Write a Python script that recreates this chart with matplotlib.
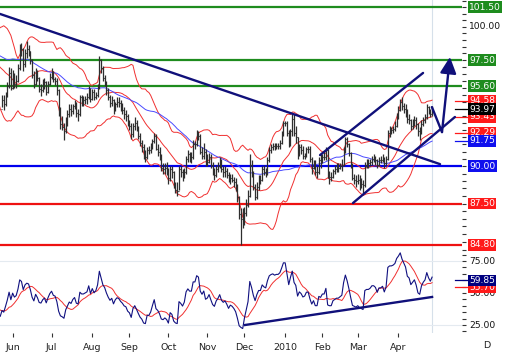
import numpy as np
import pandas as pd
import matplotlib
matplotlib.use('Agg')
import matplotlib.pyplot as plt
from matplotlib.ticker import FixedLocator, NullFormatter, NullLocator
from matplotlib.transforms import blended_transform_factory

# closes before the first visible bar, only used to warm up the indicators
hist_close = [98.2, 98.0, 98.4, 98.5, 96.3, 94.5, 94.9, 96.4, 97.1, 97.3,
              98.0, 97.7, 97.1, 98.9, 98.6, 99.3, 100.2, 100.8, 101.2, 100.6,
              100.0, 99.9, 99.2, 99.6, 99.4, 98.6, 99.1, 98.6, 97.4, 97.5,
              97.0, 96.6, 97.9, 97.7, 98.6, 98.4, 99.2, 98.9, 98.8, 98.2,
              97.5, 97.1, 95.9, 96.6, 95.3, 95.6, 96.2, 95.5, 94.4, 94.0]

# daily bars, 22 May 2009 -> 28 Apr 2010
close = [94.6, 94.3, 94.9, 95.6, 96.6, 95.5,
         96.4, 95.8, 96.0, 96.9, 98.5, 98.3, 97.2, 98.0, 98.3, 98.2, 97.5, 96.4, 95.8, 96.7, 96.2, 95.4, 95.3, 95.7, 95.9, 95.2, 95.8, 96.3,
         96.6, 96.1, 96.0, 95.3, 93.8, 92.9, 92.7, 92.4, 93.2, 93.6, 94.0, 93.8, 94.2, 94.4, 93.7, 93.6, 94.8, 94.6, 94.6, 94.7, 94.8, 95.4, 94.7,
         95.2, 94.8, 95.0, 95.6, 97.5, 96.9, 96.2, 95.9, 95.3, 94.8, 94.4, 94.6, 93.9, 94.3, 94.5, 94.4, 94.1, 93.9, 93.6, 93.5, 93.0,
         92.8, 92.2, 92.8, 93.0, 92.6, 92.1, 91.6, 91.3, 90.7, 90.6, 91.1, 91.1, 91.3, 91.7, 92.1, 91.2, 91.0, 90.6, 89.9, 89.8, 89.9, 89.7,
         89.2, 89.8, 89.6, 88.7, 88.4, 88.3, 89.8, 89.6, 89.3, 89.6, 90.5, 90.8, 90.6, 90.6, 91.5, 91.5, 92.2, 92.1, 91.0, 90.7, 91.0, 90.2,
         90.3, 90.6, 90.1, 89.6, 89.4, 89.8, 90.0, 90.3, 89.8, 89.6, 89.7, 89.4, 89.0, 89.2, 89.1, 88.9, 88.6, 87.9, 86.8, 86.5, 86.3,
         86.9, 87.4, 88.0, 90.1, 89.5, 88.6, 87.9, 88.6, 89.1, 89.1, 89.8, 89.6, 89.5, 90.4, 91.1, 91.3, 91.4, 91.3, 91.4, 91.4, 91.6, 92.2, 93.0,
         93.0, 92.3, 91.5, 92.4, 93.3, 92.3, 92.0, 90.8, 91.3, 91.1, 90.7, 90.8, 91.2, 91.2, 90.5, 89.9, 90.2, 89.6, 89.6, 90.4, 90.3,
         90.6, 90.6, 91.1, 89.4, 89.3, 89.3, 89.7, 89.8, 89.9, 89.9, 90.0, 90.1, 91.1, 91.9, 91.5, 90.9, 90.1, 89.2, 89.1, 89.0,
         89.1, 88.9, 88.8, 88.7, 90.1, 90.2, 90.2, 90.3, 90.5, 90.5, 90.4, 90.1, 90.4, 90.4, 90.5, 90.2, 90.5, 92.3, 92.5, 92.5, 92.6, 92.8, 93.5,
         93.9, 94.5, 94.2, 94.0, 93.8, 93.3, 93.2, 92.8, 93.0, 93.2, 92.9, 92.4, 92.3, 92.9, 93.2, 93.4, 94.1, 93.8, 93.6, 93.97]

high = [95.0, 95.0, 95.2, 95.9, 97.0, 96.9,
        96.8, 96.6, 96.4, 97.2, 98.7, 98.8, 98.4, 98.3, 98.9, 98.6, 98.2, 97.6, 96.7, 96.9, 96.8, 96.3, 95.8, 96.1, 96.2, 96.0, 96.0, 96.6,
        96.9, 96.7, 96.3, 96.2, 95.4, 94.1, 93.5, 93.0, 93.4, 93.9, 94.3, 94.3, 94.3, 94.6, 94.5, 94.0, 95.0, 95.0, 94.9, 94.9, 95.1, 95.6, 95.5,
        95.4, 95.4, 95.2, 95.8, 97.8, 97.6, 97.1, 96.4, 96.0, 95.5, 95.0, 94.9, 94.7, 94.5, 94.8, 94.8, 94.6, 94.4, 94.1, 93.9, 93.6,
        93.2, 93.0, 93.0, 93.4, 93.2, 92.8, 92.3, 91.8, 91.5, 91.1, 91.3, 91.4, 91.6, 91.9, 92.3, 92.2, 91.5, 91.3, 90.8, 90.2, 90.2, 90.3,
        89.9, 90.0, 90.0, 89.7, 88.9, 88.9, 90.0, 90.0, 89.8, 89.9, 90.7, 91.1, 91.0, 91.0, 91.8, 91.7, 92.5, 92.4, 92.2, 91.3, 91.6, 91.2,
        90.8, 90.9, 90.8, 90.3, 89.9, 90.1, 90.3, 90.6, 90.5, 90.0, 90.0, 89.9, 89.6, 89.5, 89.5, 89.3, 89.2, 88.8, 88.0, 87.2, 87.2,
        87.3, 87.8, 88.4, 90.8, 90.4, 89.7, 88.8, 88.9, 89.4, 89.4, 90.0, 90.1, 89.9, 90.6, 91.3, 91.5, 91.6, 91.6, 91.6, 91.6, 91.8, 92.4, 93.1,
        93.1, 93.1, 92.5, 92.6, 93.7, 93.6, 92.8, 92.0, 91.5, 91.5, 91.4, 90.9, 91.3, 91.4, 91.4, 90.6, 90.4, 90.4, 90.0, 90.6, 90.8,
        90.8, 91.0, 91.3, 91.2, 89.7, 89.6, 89.8, 90.1, 90.2, 90.2, 90.2, 90.5, 91.3, 92.0, 92.0, 91.6, 91.0, 90.2, 89.5, 89.4,
        89.5, 89.4, 89.2, 89.1, 90.3, 90.5, 90.5, 90.5, 90.7, 90.8, 90.7, 90.5, 90.6, 90.7, 90.8, 90.6, 90.7, 92.5, 92.8, 92.7, 92.8, 93.1, 93.7,
        94.2, 94.7, 94.8, 94.4, 94.3, 94.0, 93.6, 93.3, 93.3, 93.5, 93.4, 93.0, 92.7, 93.2, 93.4, 93.6, 94.3, 94.2, 94.0, 94.2]

low = [94.1, 93.9, 94.2, 94.8, 95.5, 95.3,
       95.4, 95.5, 95.5, 95.9, 96.8, 97.8, 96.7, 97.0, 97.7, 97.8, 97.2, 96.2, 95.5, 95.7, 96.0, 95.2, 94.9, 95.2, 95.4, 95.0, 95.1, 95.7,
       96.1, 95.9, 95.7, 95.0, 93.5, 92.6, 92.5, 91.8, 92.3, 92.8, 93.4, 93.5, 93.6, 94.0, 93.4, 93.1, 93.5, 94.2, 94.2, 94.3, 94.3, 94.7, 94.5,
       94.6, 94.6, 94.7, 94.8, 95.4, 96.6, 96.0, 95.6, 95.0, 94.6, 94.1, 94.2, 93.6, 93.8, 94.1, 94.1, 93.8, 93.6, 93.3, 93.1, 92.8,
       92.5, 91.9, 92.0, 92.5, 92.4, 91.9, 91.4, 91.0, 90.5, 90.3, 90.5, 90.8, 90.9, 91.2, 91.6, 91.1, 90.7, 90.4, 89.7, 89.5, 89.5, 89.4,
       88.8, 89.0, 89.2, 88.5, 88.2, 88.0, 88.4, 89.3, 89.0, 89.2, 89.5, 90.3, 90.3, 90.2, 90.5, 91.2, 91.4, 91.8, 90.8, 90.5, 90.5, 90.0,
       90.0, 90.2, 89.9, 89.4, 89.1, 89.3, 89.6, 89.9, 89.6, 89.3, 89.3, 89.2, 88.9, 88.8, 88.9, 88.6, 88.3, 87.6, 86.5, 84.8, 85.9,
       86.1, 86.7, 87.3, 87.9, 89.3, 88.4, 87.7, 87.8, 88.4, 88.8, 89.0, 89.4, 89.3, 89.4, 90.3, 90.9, 91.1, 91.1, 91.2, 91.2, 91.2, 91.5, 92.1,
       92.8, 92.1, 91.3, 91.4, 92.1, 92.1, 91.6, 90.5, 90.7, 90.8, 90.5, 90.5, 90.6, 90.9, 90.3, 89.5, 89.8, 89.4, 89.2, 89.5, 89.9,
       90.2, 90.4, 90.4, 89.2, 88.8, 89.0, 89.2, 89.5, 89.6, 89.6, 89.8, 89.7, 90.0, 90.9, 91.3, 90.7, 89.9, 89.1, 88.8, 88.6,
       88.8, 88.4, 88.5, 88.2, 88.6, 89.9, 89.9, 90.0, 90.1, 90.3, 90.1, 89.9, 90.0, 90.2, 90.3, 89.9, 90.1, 90.4, 92.0, 92.2, 92.3, 92.4, 92.7,
       93.3, 93.8, 93.9, 93.7, 93.4, 93.0, 92.9, 92.5, 92.6, 92.8, 92.6, 92.1, 91.8, 92.2, 92.8, 93.0, 93.3, 93.6, 93.4, 93.5]

month_starts = ['2009-06-01', '2009-07-01', '2009-08-03', '2009-09-01', '2009-10-01', '2009-11-02',
                '2009-12-01', '2010-01-01', '2010-02-01', '2010-03-01', '2010-04-01']
month_labels = ['Jun', 'Jul', 'Aug', 'Sep', 'Oct', 'Nov', 'Dec', '2010', 'Feb', 'Mar', 'Apr']

# horizontal support / resistance levels
levels = [101.50, 97.50, 95.60, 90.00, 87.50, 84.80]
level_colors = ['#1e8c1e', '#1e8c1e', '#1e8c1e', '#0000ee', '#ee1111', '#ee1111']

# price axis tags: value, text, box colour (None = plain text)
tag_vals = [101.50, 100.00, 97.50, 95.60, 94.58, 93.43, 92.29, 93.97, 91.75, 90.00, 87.50, 84.80]
tag_text = ['101.50', '100.00', '97.50', '95.60', '94.58', '93.43', '92.29', '93.97', '91.75', '90.00', '87.50', '84.80']
tag_colors = ['#1e8c1e', None, '#1e8c1e', '#1e8c1e', '#ff1a1a', '#ff1a1a', '#ff1a1a', '#000000',
              '#1010ee', '#1010ee', '#ff1a1a', '#ff1a1a']

# drawn trend lines, (bar index, price) end points
down_line = ([-1.1, 247.5], [100.97, 90.14])
chan_low = ([198.3, 255.9], [87.53, 93.41])
chan_high = ([179.7, 237.9], [90.76, 96.57])
proj_leg = ([242.9, 248.6], [94.11, 92.35])
proj_tip = (253.1, 97.74)
rsi_line = ([137.3, 243.0], [25.0, 46.9])

rsi_tags = [(54.6, '55.70', '#ff1a1a'), (59.85, '59.85', '#000080')]

# ---------------------------------------------------------------- indicators
n0 = len(hist_close)
full = pd.Series(hist_close + close)
fx = np.arange(-n0, len(close))
mid = full.rolling(20).mean()
sd = full.rolling(20).std(ddof=0)
upper = mid + 2 * sd
lower = mid - 2 * sd
ma50 = full.rolling(50).mean()

delta = full.diff()
gain = delta.clip(lower=0).ewm(alpha=1 / 14, adjust=False).mean()
loss = (-delta.clip(upper=0)).ewm(alpha=1 / 14, adjust=False).mean()
rsi = 100 - 100 / (1 + gain / loss)
rsi_ma = rsi.rolling(9).mean()

dates = pd.bdate_range('2009-05-22', periods=len(close))
x = np.arange(len(close))
tick_pos = dates.get_indexer(pd.to_datetime(month_starts))
prev = [hist_close[-1]] + close[:-1]

# ---------------------------------------------------------------- figure
W, H = 505, 353
fig = plt.figure(figsize=(W / 100, H / 100), dpi=100)
ax = fig.add_axes([0, 1 - 250 / H, 462 / W, 250 / H])
ax2 = fig.add_axes([0, 1 - 333 / H, 462 / W, 83 / H])

xlim = (-1.13, 259.9)
navy = '#10107a'

for a in (ax, ax2):
    a.set_xlim(*xlim)
    for s in a.spines.values():
        s.set_visible(False)
    a.axvline(243.2, color='#d6e0ea', lw=0.8, zorder=0)

# price panel
ax.set_yscale('log')
ax.set_ylim(84.48, 102.04)
ax.yaxis.tick_right()
ax.yaxis.set_major_locator(FixedLocator(np.arange(84.5, 102.01, 0.5)))
ax.yaxis.set_major_formatter(NullFormatter())
ax.yaxis.set_minor_locator(NullLocator())
ax.yaxis.set_minor_formatter(NullFormatter())
ax.tick_params(axis='y', length=3, width=0.8, color='#333333')
ax.set_xticks([])

for lv, c in zip(levels, level_colors):
    ax.axhline(lv, color=c, lw=1.6, zorder=1)

ax.plot(fx, upper, color='#f03030', lw=0.7, zorder=2)
ax.plot(fx, lower, color='#f03030', lw=0.7, zorder=2)
ax.plot(fx, mid, color='#f03030', lw=0.7, zorder=2)
ax.plot(fx, ma50, color='#4a4aff', lw=0.7, zorder=2)

ax.vlines(x, low, high, color='#2e2e2e', lw=0.9, zorder=3)
ax.hlines(prev, x - 0.5, x, color='#2e2e2e', lw=0.8, zorder=3)
ax.hlines(close, x, x + 0.5, color='#2e2e2e', lw=0.8, zorder=3)

for ln in (down_line, chan_low, chan_high, proj_leg):
    ax.plot(ln[0], ln[1], color=navy, lw=1.7, zorder=4, solid_capstyle='round')
ax.annotate('', xy=proj_tip, xytext=(proj_leg[0][1], proj_leg[1][1]),
            arrowprops=dict(arrowstyle='-|>,head_length=0.7,head_width=0.35',
                            color=navy, lw=1.7, mutation_scale=14, shrinkA=0, shrinkB=0),
            zorder=5)

trans = blended_transform_factory(ax.transAxes, ax.transData)
for v, t, c in zip(tag_vals, tag_text, tag_colors):
    if c is None:
        ax.text(1.015, v, t, transform=trans, ha='left', va='center', fontsize=6.6,
                color='#111111', clip_on=False)
        continue
    if c != '#1e8c1e' and v not in levels:
        ax.plot([0.985, 1.012], [v, v], transform=trans, color=c, lw=0.9, clip_on=False)
    ax.text(1.015, v, t, transform=trans, ha='left', va='center', fontsize=6.6, color='white',
            bbox=dict(boxstyle='square,pad=0.15', fc=c, ec='none'), clip_on=False, zorder=6)

# RSI panel
ax2.set_ylim(18.75, 83.6)
ax2.axhline(75, color='#e4eaf0', lw=0.8, zorder=0)
ax2.axhline(25, color='#e4eaf0', lw=0.8, zorder=0)
ax2.plot(fx, rsi_ma, color='#f03030', lw=0.7, zorder=2)
ax2.plot(fx, rsi, color='#101080', lw=0.8, zorder=3)
ax2.plot(rsi_line[0], rsi_line[1], color=navy, lw=1.7, zorder=4)
ax2.text(398, 31, 'RSI', fontsize=6.8, fontweight='bold', color='#3a3a50', ha='center', va='center')

ax2.yaxis.tick_right()
ax2.set_yticks(np.arange(20, 81, 5))
ax2.set_yticklabels([])
ax2.tick_params(axis='y', length=3, width=0.8, color='#333333')
ax2.set_xticks(tick_pos)
ax2.set_xticklabels(month_labels, fontsize=6.8, color='#222222')
ax2.tick_params(axis='x', length=3, width=0.8, color='#333333', pad=4)

trans2 = blended_transform_factory(ax2.transAxes, ax2.transData)
for v in (75, 50, 25):
    ax2.text(1.015, v, '%.2f' % v, transform=trans2, ha='left', va='center', fontsize=6.6,
             color='#111111', clip_on=False)
for v, t, c in rsi_tags:
    ax2.plot([0.985, 1.012], [v, v], transform=trans2, color=c, lw=0.9, clip_on=False)
    ax2.text(1.015, v, t, transform=trans2, ha='left', va='center', fontsize=6.6, color='white',
             bbox=dict(boxstyle='square,pad=0.15', fc=c, ec='none'), clip_on=False)

fig.text(487 / W, 1 - 345 / H, 'D', fontsize=6.8, color='#222222', ha='center', va='center')

fig.savefig('out.png', dpi=100)
